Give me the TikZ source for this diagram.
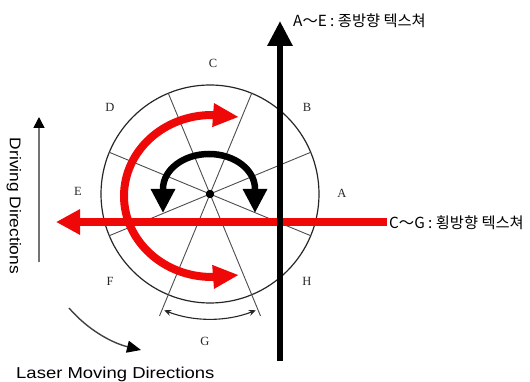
\documentclass[tikz,border=0pt]{standalone}
\usepackage{fontspec}
\setmainfont{Liberation Serif}
\newfontfamily\kofont{Noto Sans CJK KR}
\newfontfamily\engfont[FakeStretch=1.12]{Liberation Sans}
\newfontfamily\engwide[FakeStretch=1.17]{Liberation Sans}
\usetikzlibrary{arrows.meta,calc}
\definecolor{bigred}{RGB}{238,8,8}
\tikzset{
  spoke/.style={draw=black!70, line width=0.9pt},
  rim/.style={draw=black!85, line width=1.2pt},
  seclabel/.style={font=\fontsize{12.5}{13}\selectfont, text=black!85, inner sep=0pt},
  kolabel/.style={font=\kofont\fontsize{15.3}{16}\selectfont, anchor=west, inner sep=0pt},
  enlabel/.style={font=\engfont\fontsize{15.5}{16}\selectfont, inner sep=0pt},
  bigarrow/.style={line width=6pt, -{Triangle[length=25pt,width=24pt]}},
  redarrow/.style={draw=bigred, line width=8pt},
}
\begin{document}
\begin{tikzpicture}[x=1pt,y=-1pt]
\useasboundingbox (0,0) rectangle (530,382);
\coordinate (O) at (210,194);
% rim and spokes
\draw[rim] (O) circle[radius=109];
\foreach \a in {22.5,157.5} {
  \draw[spoke] ($(O)+(\a:109)$) -- ($(O)+(\a+180:109)$);
}
\draw[spoke] (O) ++(-67.5:109) coordinate (s1) -- ++(112.5:241) coordinate (s1e);
\draw[spoke] (O) ++(-112.5:109) coordinate (s2) -- ++(67.5:241) coordinate (s2e);
% G bracket
\draw[line width=1.1pt, black!85, {Stealth[length=7pt,width=6pt]}-{Stealth[length=7pt,width=6pt]}]
  (O) ++(111.5:125) arc[start angle=111.5, end angle=68.5, radius=125];
% center dot
\fill (O) circle[radius=4.2];
% sector labels
\node[seclabel] (lC) at (213,63) {C};
\node[seclabel] (lD) at (110,107) {D};
\node[seclabel] (lB) at (307,107) {B};
\node[seclabel] (lE) at (78,191) {E};
\node[seclabel] (lA) at (342,193) {A};
\node[seclabel] (lF) at (110,281) {F};
\node[seclabel] (lH) at (307,281) {H};
\node[seclabel] (lG) at (205,341) {G};
% black double arc arrow
\draw[line width=6.5pt, {Triangle[length=24pt,width=23pt]}-{Triangle[length=24pt,width=23pt]}]
  (163,213) -- (163,189) arc[start angle=180, end angle=360, x radius=46, y radius=35] -- (255,213);
% red C arrow
\draw[redarrow, {Triangle[length=26pt,width=22pt]}-{Triangle[length=26pt,width=22pt]}]
  (239,117) -- (212,115) arc[start angle=270, end angle=90, x radius=88, y radius=81] -- (239,275);
% red horizontal arrow
\coordinate (hr) at (387,222);
\coordinate (hl) at (56,222);
\draw[redarrow, -{Triangle[length=24pt,width=24pt]}] (hr) -- (hl);
% black vertical arrow
\coordinate (vb) at (280,361);
\coordinate (vt) at (280,21);
\draw[bigarrow] (vb) -- (vt);
% Korean labels
\node[kolabel] (ae) at (293,21) {A～E : 종방향 텍스쳐};
\node[kolabel] (cg) at (389,223) {C～G : 횡방향 텍스쳐};
% driving direction
\coordinate (db) at (39,262);
\coordinate (dt) at (39,117);
\draw[black!55, line width=1.6pt, -{Triangle[length=11pt,width=11pt,color=black]}] (db) -- (dt);
\node[enlabel, rotate=-90] (drv) at (14,206) {Driving Directions};
% laser moving direction
\coordinate (ls) at (69,308);
\coordinate (le) at (141,350);
\draw[black!75, line width=1.4pt, -{Triangle[length=14pt,width=12pt,color=black]}]
  (ls) .. controls (88,330) and (112,343) .. (le);
\node[enlabel, font=\engwide\fontsize{15.8}{16}\selectfont, anchor=west] (lmd) at (16,374) {Laser Moving Directions};
\end{tikzpicture}
\end{document}
